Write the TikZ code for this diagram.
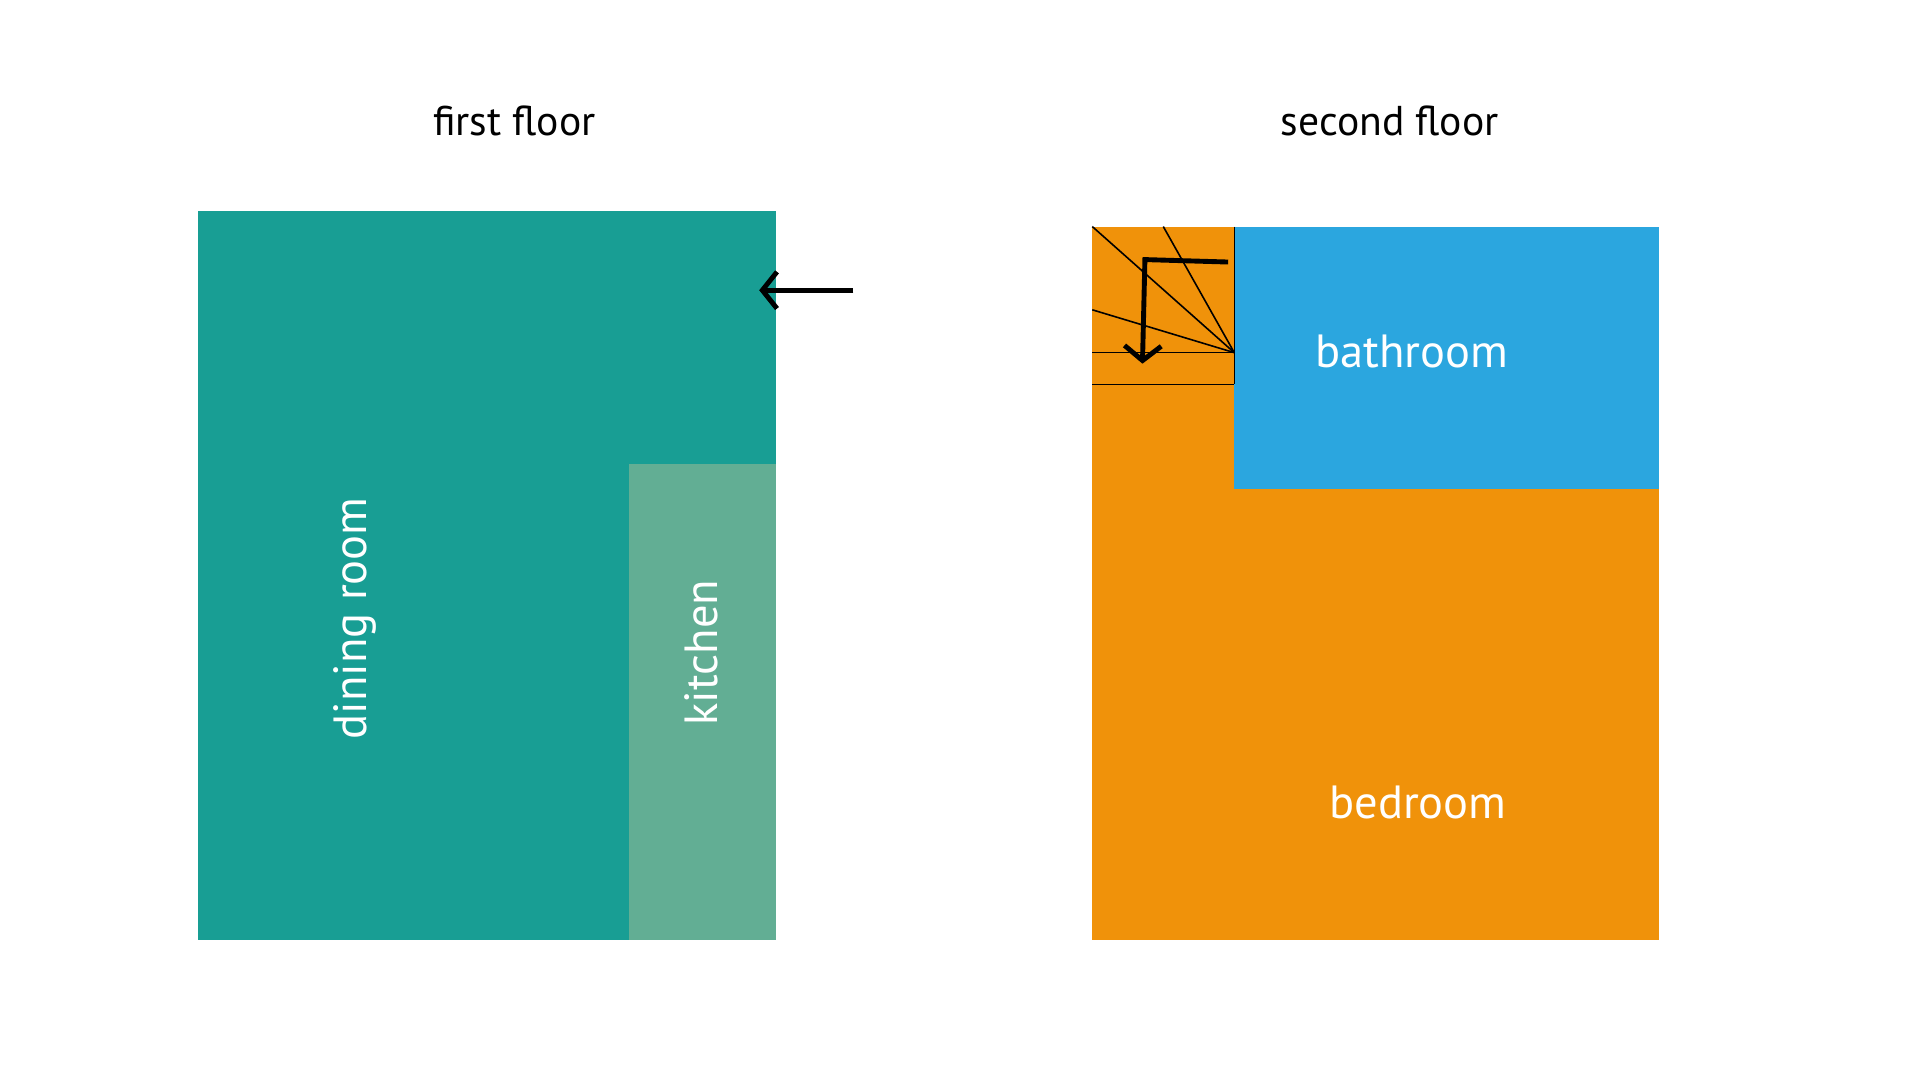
\documentclass[tikz,border=0pt]{standalone}
\usepackage{fontspec}
\setmainfont{PT Sans}
\usetikzlibrary{arrows.meta}
\definecolor{teal1}{HTML}{189E94}
\definecolor{kit}{HTML}{62AE94}
\definecolor{orng}{HTML}{F0920A}
\definecolor{blu}{HTML}{2BA6DF}
\tikzset{title/.style={font=\fontsize{34}{40}\selectfont, text=black},
 room/.style={font=\fontsize{38}{44}\selectfont, text=white},
 stair/.style={line width=1.3pt, black},
 heavy/.style={line width=4pt, black}}
\begin{document}
\begin{tikzpicture}[x=1pt,y=-1pt]
\useasboundingbox[fill=white] (0,0) rectangle (1568,882);
% first floor
\fill[teal1] (162,172) rectangle (634,768);
\fill[kit] (514,379) rectangle (634,768);
\node[title] (t1) at (420,99) {first floor};
\node[room, rotate=90] (dr) at (290,505) {dining room};
\node[room, rotate=90] (kt) at (573,533) {kitchen};
\coordinate (a1) at (697,237);
\coordinate (a2) at (620,237);
\draw[line width=4pt, -{Straight Barb[length=12pt,width=30pt,line width=4pt]}] (a1) -- (a2);
% second floor
\fill[orng] (892,185) rectangle (1355,768);
\fill[blu] (1008,185) rectangle (1355,399);
\node[title] (t2) at (1135,99) {second floor};
\node[room] (bt) at (1153,287) {bathroom};
\node[room] (bd) at (1158,655) {bedroom};
% stairs
\coordinate (c) at (1008,288);
\draw[stair] (892,185) -- (c);
\draw[stair] (950,185) -- (c);
\draw[stair] (892,253) -- (c);
\draw[stair] (892,288) -- (c);
\draw[stair] (892,314) -- (1008,314);
\draw[stair] (1008,185) -- (1008,314);
\draw[heavy, line join=miter, -{Straight Barb[length=12pt,width=30pt,line width=4pt]}] (1003,214) -- (935,212) -- (933,297);
\end{tikzpicture}
\end{document}
